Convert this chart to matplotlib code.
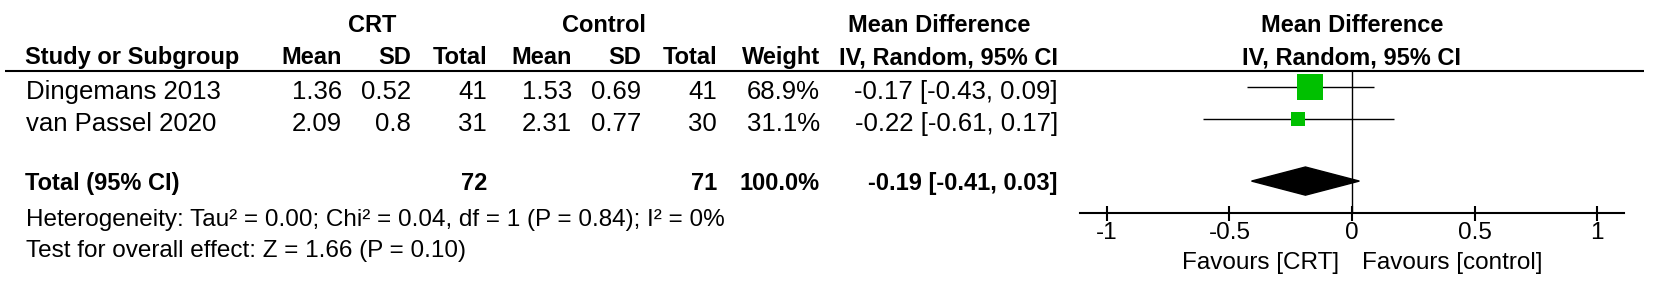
import matplotlib
matplotlib.use("Agg")
import matplotlib.pyplot as plt

plt.rcParams['font.family'] = ['Liberation Sans', 'DejaVu Sans']

# data
studies = ['Dingemans 2013', 'van Passel 2020']
crt_mean = [1.36, 2.09]
crt_sd = [0.52, 0.8]
crt_n = [41, 31]
ctl_mean = [1.53, 2.31]
ctl_sd = [0.69, 0.77]
ctl_n = [41, 30]
weights = [68.9, 31.1]
md = [-0.17, -0.22]
ci_lo = [-0.43, -0.61]
ci_hi = [0.09, 0.17]

total_crt_n = 72
total_ctl_n = 71
total_weight = 100.0
total_md = -0.19
total_lo = -0.41
total_hi = 0.03

heterogeneity = 'Heterogeneity: Tau\u00b2 = 0.00; Chi\u00b2 = 0.04, df = 1 (P = 0.84); I\u00b2 = 0%'
overall = 'Test for overall effect: Z = 1.66 (P = 0.10)'
ticks = [-1, -0.5, 0, 0.5, 1]
tick_labels = ['-1', '-0.5', '0', '0.5', '1']

W, H = 1654, 289
fig = plt.figure(figsize=(W / 100, H / 100), dpi=100)

# full-figure axes in pixel units for the table text
ax_t = fig.add_axes([0, 0, 1, 1])
ax_t.set_xlim(0, W)
ax_t.set_ylim(H, 0)
ax_t.axis('off')

body = 18.5
head = 17
small = 17.5

# column right edges (pixels)
cols = [342, 411, 487, 572, 641, 717, 820, 1058]

# group headers
ax_t.text(372, 32, 'CRT', ha='center', va='baseline', fontsize=head, fontweight='bold')
ax_t.text(604, 32, 'Control', ha='center', va='baseline', fontsize=head, fontweight='bold')
ax_t.text(939, 32, 'Mean Difference', ha='center', va='baseline', fontsize=head, fontweight='bold')
ax_t.text(1352, 32, 'Mean Difference', ha='center', va='baseline', fontsize=head, fontweight='bold')

ax_t.text(25, 64, 'Study or Subgroup', ha='left', va='baseline', fontsize=head, fontweight='bold')
for x, lab in zip(cols, ['Mean', 'SD', 'Total', 'Mean', 'SD', 'Total', 'Weight', 'IV, Random, 95% CI']):
    ax_t.text(x, 64, lab, ha='right', va='baseline', fontsize=head, fontweight='bold')
ax_t.text(1352, 64, 'IV, Random, 95% CI', ha='center', va='baseline', fontsize=head, fontweight='bold')

ax_t.hlines(71, 5, 1644, color='black', lw=1.5)

# study rows
row_base = [99, 131]
for i, name in enumerate(studies):
    y = row_base[i]
    ax_t.text(26, y, name, ha='left', va='baseline', fontsize=body)
    vals = [f'{crt_mean[i]:g}', f'{crt_sd[i]:g}', f'{crt_n[i]}',
            f'{ctl_mean[i]:g}', f'{ctl_sd[i]:g}', f'{ctl_n[i]}',
            f'{weights[i]:.1f}%',
            f'{md[i]:.2f} [{ci_lo[i]:.2f}, {ci_hi[i]:.2f}]']
    for x, v in zip(cols, vals):
        ax_t.text(x, y, v, ha='right', va='baseline', fontsize=body)

# total row
ax_t.text(25, 190, 'Total (95% CI)', ha='left', va='baseline', fontsize=head, fontweight='bold')
ax_t.text(cols[2], 190, f'{total_crt_n}', ha='right', va='baseline', fontsize=head, fontweight='bold')
ax_t.text(cols[5], 190, f'{total_ctl_n}', ha='right', va='baseline', fontsize=head, fontweight='bold')
ax_t.text(cols[6], 190, f'{total_weight:.1f}%', ha='right', va='baseline', fontsize=head, fontweight='bold')
ax_t.text(cols[7], 190, f'{total_md:.2f} [{total_lo:.2f}, {total_hi:.2f}]',
          ha='right', va='baseline', fontsize=head, fontweight='bold')

ax_t.text(26, 226, heterogeneity, ha='left', va='baseline', fontsize=small)
ax_t.text(26, 257, overall, ha='left', va='baseline', fontsize=small)

ax_t.text(1339, 269, 'Favours [CRT]', ha='right', va='baseline', fontsize=small)
ax_t.text(1362, 269, 'Favours [control]', ha='left', va='baseline', fontsize=small)

# forest plot axes
ax_f = fig.add_axes([1080 / W, (H - 213) / H, 544 / W, 142 / H])
ax_f.patch.set_alpha(0)
ax_f.set_xlim(-1.11, 1.11)
ax_f.set_ylim(3.9375, -0.5)
for s in ['top', 'left', 'right']:
    ax_f.spines[s].set_visible(False)
ax_f.spines['bottom'].set_linewidth(1.5)
ax_f.set_yticks([])
ax_f.set_xticks(ticks)
ax_f.set_xticklabels(tick_labels, fontsize=small)
ax_f.tick_params(axis='x', direction='inout', length=10.8, width=1.5, pad=1.0)

ax_f.axvline(0, color='black', lw=1.0)

rows = list(range(len(studies)))
ax_f.hlines(rows, ci_lo, ci_hi, color='black', lw=1.0, zorder=2)
sizes = [(0.851 * w ** 0.73) ** 2 for w in weights]
ax_f.scatter(md, rows, s=sizes, marker='s', color='#00c000', linewidths=0, zorder=3, clip_on=False)

yt = 2.94
h = 0.44
ax_f.fill([total_lo, total_md, total_hi, total_md], [yt, yt - h, yt, yt + h],
          color='black', zorder=3, clip_on=False)

fig.savefig('out.png', dpi=100)
